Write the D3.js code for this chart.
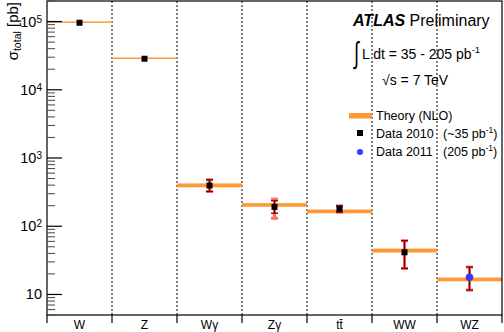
<!DOCTYPE html>
<html>
<head>
<meta charset="utf-8">
<script src="https://cdn.jsdelivr.net/npm/d3@7"></script>
<style>
  body { margin: 0; background: #fff; }
  text { font-family: "Liberation Sans", Arial, sans-serif; }
</style>
</head>
<body>
<svg id="chart"></svg>
<script>
// channels
const categories = ["W", "Z", "Wγ", "Zγ", "tt\u0304", "WW", "WZ"];

// theory (NLO) central value and band edges [pb]
const theory   = [9.8e4, 2.9e4, 396, 205, 165, 44, 16.6];
const theoryLo = [9.65e4, 2.86e4, 372, 193, 155, 41.2, 15.6];
const theoryHi = [9.95e4, 2.94e4, 424, 218, 176, 47, 17.7];

// measurements [pb]; year tells the marker
const measured = [9.6e4, 2.85e4, 395, 192, 180, 41.5, 17.9];
const year     = [2010, 2010, 2010, 2010, 2010, 2010, 2011];
const totLo    = [null, null, 323, 131, 161, 24.1, 11.6];
const totHi    = [null, null, 480, 249, 199, 61.4, 25.2];
const statLo   = [null, null, 323, 155, 161, 24.1, 11.6];
const statHi   = [null, null, 480, 236, 199, 61.4, 25.2];

const yTicks = [10, 100, 1000, 1e4, 1e5];

const W = 504, H = 332;
const margin = { top: 1, right: 2, bottom: 17, left: 47 };
const w = W - margin.left - margin.right,
      h = H - margin.top - margin.bottom;

const orange = "#fd9a35";

const svg = d3.select("#chart").attr("width", W).attr("height", H);
const g = svg.append("g").attr("transform", "translate(" + margin.left + "," + margin.top + ")");

const x = d3.scaleBand().domain(d3.range(categories.length)).range([0, w]);
const y = d3.scaleLog().domain([5, 2e5]).range([h, 0]);

// dotted separators
g.selectAll(".sep")
  .data(d3.range(1, categories.length))
  .enter().append("line")
  .attr("x1", d => x(d)).attr("x2", d => x(d))
  .attr("y1", 0).attr("y2", h)
  .attr("stroke", "#000").attr("stroke-width", 1)
  .attr("stroke-dasharray", "2,2");

// theory bands
g.selectAll(".theory")
  .data(categories)
  .enter().append("rect")
  .attr("x", (d, i) => x(i))
  .attr("width", x.bandwidth())
  .attr("y", (d, i) => Math.min(y(theoryHi[i]), y(theory[i]) - 0.75))
  .attr("height", (d, i) => Math.max(y(theoryLo[i]) - y(theoryHi[i]), 1.5))
  .attr("fill", orange);

// error bars
const idx = d3.range(categories.length).filter(i => totLo[i] != null);
const cx = i => x(i) + x.bandwidth() / 2;

function bars(lo, hi, color, width, opacity) {
  const eb = g.append("g").attr("stroke", color).attr("stroke-width", width).attr("opacity", opacity);
  eb.selectAll(".v").data(idx).enter().append("line")
    .attr("x1", cx).attr("x2", cx)
    .attr("y1", i => y(lo[i])).attr("y2", i => y(hi[i]));
  eb.selectAll(".ct").data(idx).enter().append("line")
    .attr("x1", i => cx(i) - 3.5).attr("x2", i => cx(i) + 3.5)
    .attr("y1", i => y(hi[i])).attr("y2", i => y(hi[i]));
  eb.selectAll(".cb").data(idx).enter().append("line")
    .attr("x1", i => cx(i) - 3.5).attr("x2", i => cx(i) + 3.5)
    .attr("y1", i => y(lo[i])).attr("y2", i => y(lo[i]));
}
bars(totLo, totHi, "#ff3b3b", 3, 0.75);
bars(statLo, statHi, "#7a0000", 1.3, 1);

// markers
const i2010 = d3.range(categories.length).filter(i => year[i] === 2010);
const i2011 = d3.range(categories.length).filter(i => year[i] === 2011);
g.selectAll(".sq").data(i2010).enter().append("rect")
  .attr("x", i => cx(i) - 3).attr("y", i => y(measured[i]) - 3)
  .attr("width", 6).attr("height", 6).attr("fill", "#000");
g.selectAll(".dot").data(i2011).enter().append("circle")
  .attr("cx", cx).attr("cy", i => y(measured[i]))
  .attr("r", 3.8).attr("fill", "#3737ff");

// frame
g.append("rect").attr("width", w).attr("height", h)
  .attr("fill", "none").attr("stroke", "#000").attr("stroke-width", 1.2);

// y axis ticks (major + minor)
const minor = [];
for (let e = 0; e < 6; e++) for (let m = 2; m <= 9; m++) {
  const v = m * Math.pow(10, e);
  if (v >= 5 && v <= 2e5) minor.push(v);
}
g.selectAll(".ymin").data(minor).enter().append("line")
  .attr("x1", 0).attr("x2", 8)
  .attr("y1", d => y(d)).attr("y2", d => y(d))
  .attr("stroke", "#444").attr("stroke-width", 1);
g.selectAll(".ymaj").data(yTicks).enter().append("line")
  .attr("x1", 0).attr("x2", 15)
  .attr("y1", d => y(d)).attr("y2", d => y(d))
  .attr("stroke", "#000").attr("stroke-width", 1.2);

const yl = g.selectAll(".ylab").data(yTicks).enter().append("text")
  .attr("x", -5).attr("y", d => y(d) + 5)
  .attr("text-anchor", "end").attr("font-size", 14.5);
yl.append("tspan").text("10");
yl.filter(d => d > 10).append("tspan")
  .attr("font-size", 10).attr("dy", -4)
  .text(d => Math.round(Math.log10(d)));

// x axis ticks and labels
g.selectAll(".xt").data(d3.range(categories.length + 1)).enter().append("line")
  .attr("x1", d => d * x.step()).attr("x2", d => d * x.step())
  .attr("y1", h).attr("y2", h + 8)
  .attr("stroke", "#000").attr("stroke-width", 1.2);
g.selectAll(".xl").data(categories).enter().append("text")
  .attr("x", (d, i) => cx(i)).attr("y", h + 14)
  .attr("text-anchor", "middle").attr("font-size", 12)
  .text(d => d);

// y title
const yt = svg.append("text")
  .attr("transform", "translate(18,2) rotate(-90)")
  .attr("text-anchor", "end").attr("font-size", 15);
yt.append("tspan").text("σ");
yt.append("tspan").attr("font-size", 10.5).attr("dy", 3).text("total");
yt.append("tspan").attr("dy", -3).text(" [pb]");

// ATLAS label
const at = svg.append("text").attr("x", 353).attr("y", 26).attr("font-size", 16);
at.append("tspan").attr("font-weight", "bold").attr("font-style", "italic").text("ATLAS");
at.append("tspan").text(" Preliminary");

// integral sign, squeezed so its stroke is thin like the original
svg.append("text").attr("transform", "translate(354,63) scale(0.6,1)")
  .attr("font-size", 30).attr("font-family", "DejaVu Sans").text("∫");
const lum = svg.append("text").attr("x", 362).attr("y", 59).attr("font-size", 14);
lum.append("tspan").text("L dt = 35 - 205 pb");
lum.append("tspan").attr("font-size", 9.5).attr("dy", -6).text("-1");

svg.append("text").attr("x", 382).attr("y", 85).attr("font-size", 14).text("√s = 7 TeV");

// legend
const leg = svg.append("g").attr("font-size", 12.5);
leg.append("rect").attr("x", 349).attr("y", 113).attr("width", 23).attr("height", 5.5).attr("fill", orange);
leg.append("text").attr("x", 376).attr("y", 120).text("Theory (NLO)");
leg.append("rect").attr("x", 357).attr("y", 130).attr("width", 6).attr("height", 6).attr("fill", "#000");
leg.append("text").attr("x", 376).attr("y", 138).text("Data 2010");
const l1 = leg.append("text").attr("x", 443).attr("y", 138);
l1.append("tspan").text("(~35 pb");
l1.append("tspan").attr("font-size", 8.5).attr("dy", -5).text("-1");
l1.append("tspan").attr("dy", 5).text(")");
leg.append("circle").attr("cx", 360).attr("cy", 152).attr("r", 3).attr("fill", "#3737ff");
leg.append("text").attr("x", 376).attr("y", 156).text("Data 2011");
const l2 = leg.append("text").attr("x", 443).attr("y", 156);
l2.append("tspan").text("(205 pb");
l2.append("tspan").attr("font-size", 8.5).attr("dy", -5).text("-1");
l2.append("tspan").attr("dy", 5).text(")");
</script>
</body>
</html>
